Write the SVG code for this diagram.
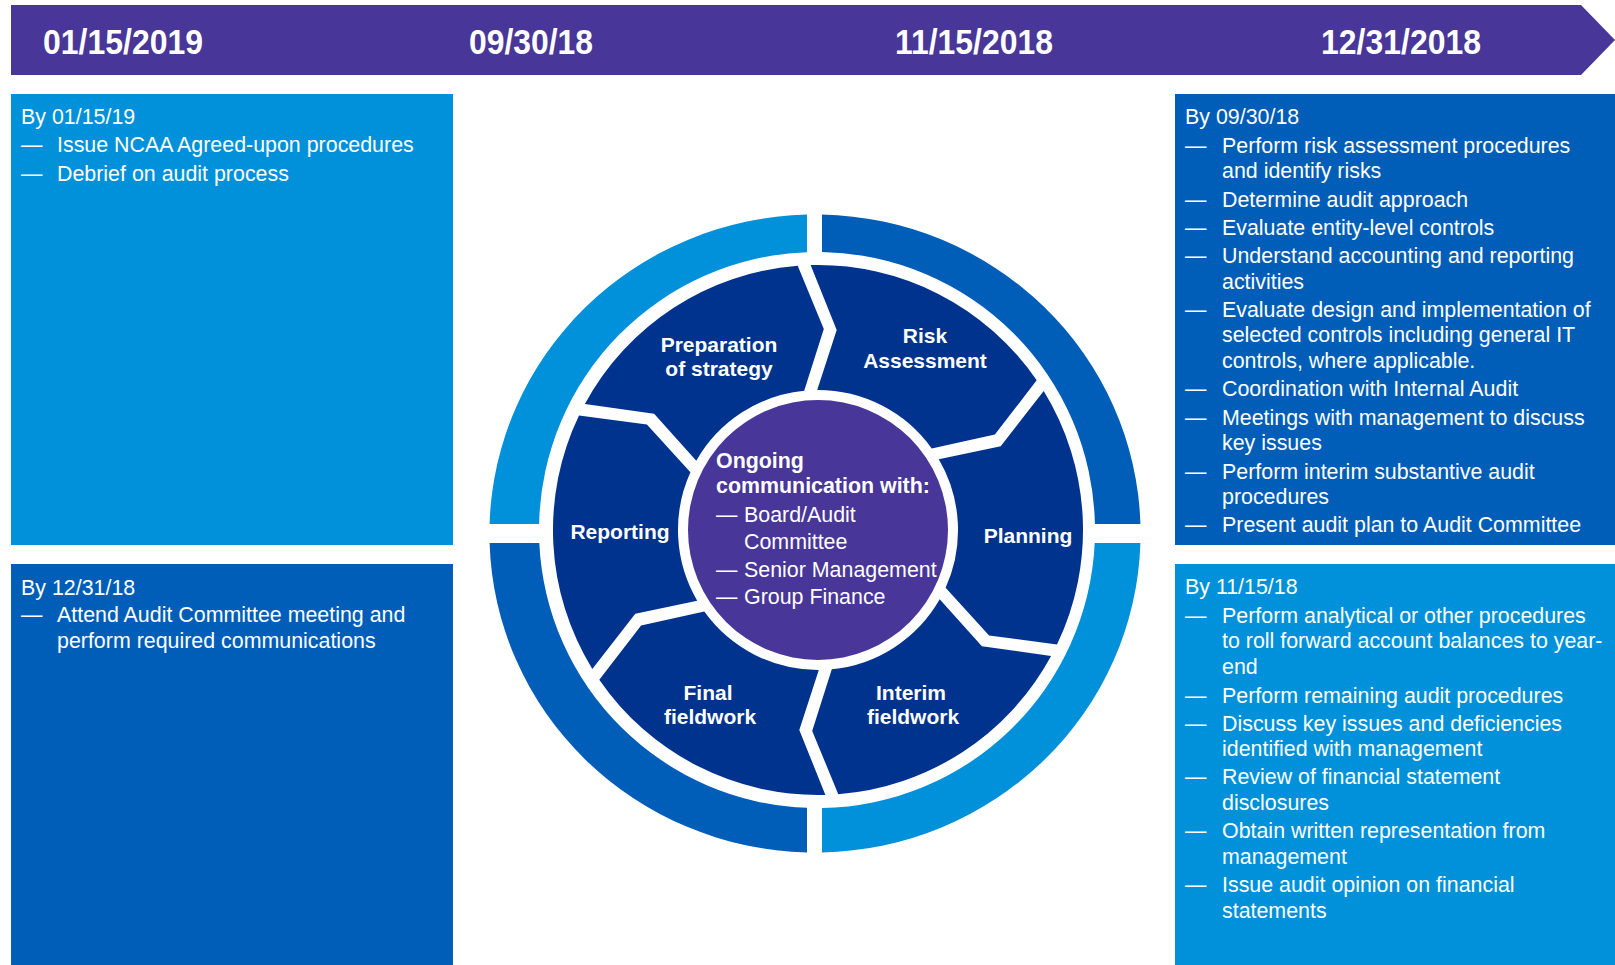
<svg xmlns="http://www.w3.org/2000/svg" width="1615" height="965" viewBox="0 0 1615 965">
<style>
.t{fill:#fff;font-family:"Liberation Sans",Arial,sans-serif;font-size:21.4px}
.lbl{fill:#fff;font-family:"Liberation Sans",Arial,sans-serif;font-size:21px;font-weight:bold;text-anchor:middle}
.date{fill:#fff;font-family:"Liberation Sans",Arial,sans-serif;font-size:35px;font-weight:bold}
.seg{fill:#00338D}
.light{fill:#0091DA}
.mid{fill:#005EB8}
.purple{fill:#483698}
</style>
<rect width="1615" height="965" fill="#fff"/>

<g id="banner">
<path class="purple" d="M11,5 L1581,5 L1615,40 L1581,75 L11,75 Z"/>
<text class="date" x="43" y="54" textLength="160" lengthAdjust="spacingAndGlyphs">01/15/2019</text>
<text class="date" x="469" y="54" textLength="124" lengthAdjust="spacingAndGlyphs">09/30/18</text>
<text class="date" x="895" y="54" textLength="158" lengthAdjust="spacingAndGlyphs">11/15/2018</text>
<text class="date" x="1321" y="54" textLength="160" lengthAdjust="spacingAndGlyphs">12/31/2018</text>
</g>

<g id="box-0115">
<rect class="light" x="11" y="94" width="442" height="451"/>
<text class="t" x="21" y="124">By 01/15/19</text>
<text class="t" x="21" y="152">—</text><text class="t" x="57" y="152">Issue NCAA Agreed-upon procedures</text>
<text class="t" x="21" y="181">—</text><text class="t" x="57" y="181">Debrief on audit process</text>
</g>

<g id="box-1231">
<rect class="mid" x="11" y="564" width="442" height="401"/>
<text class="t" x="21" y="595">By 12/31/18</text>
<text class="t" x="21" y="622">—</text><text class="t" x="57" y="622">Attend Audit Committee meeting and</text>
<text class="t" x="57" y="648">perform required communications</text>
</g>

<g id="box-0930">
<rect class="mid" x="1175" y="94" width="440" height="451"/>
<text class="t" x="1185" y="124">By 09/30/18</text>
<text class="t" x="1185" y="152.5">—</text><text class="t" x="1222" y="152.5">Perform risk assessment procedures</text>
<text class="t" x="1222" y="178">and identify risks</text>
<text class="t" x="1185" y="207">—</text><text class="t" x="1222" y="207">Determine audit approach</text>
<text class="t" x="1185" y="235">—</text><text class="t" x="1222" y="235">Evaluate entity-level controls</text>
<text class="t" x="1185" y="263">—</text><text class="t" x="1222" y="263">Understand accounting and reporting</text>
<text class="t" x="1222" y="288.5">activities</text>
<text class="t" x="1185" y="316.5">—</text><text class="t" x="1222" y="316.5">Evaluate design and implementation of</text>
<text class="t" x="1222" y="342.3">selected controls including general IT</text>
<text class="t" x="1222" y="368">controls, where applicable.</text>
<text class="t" x="1185" y="395.5">—</text><text class="t" x="1222" y="395.5">Coordination with Internal Audit</text>
<text class="t" x="1185" y="424.5">—</text><text class="t" x="1222" y="424.5">Meetings with management to discuss</text>
<text class="t" x="1222" y="450">key issues</text>
<text class="t" x="1185" y="479">—</text><text class="t" x="1222" y="479">Perform interim substantive audit</text>
<text class="t" x="1222" y="504">procedures</text>
<text class="t" x="1185" y="532">—</text><text class="t" x="1222" y="532">Present audit plan to Audit Committee</text>
</g>

<g id="box-1115">
<rect class="light" x="1175" y="564" width="440" height="401"/>
<text class="t" x="1185" y="594">By 11/15/18</text>
<text class="t" x="1185" y="622.5">—</text><text class="t" x="1222" y="622.5">Perform analytical or other procedures</text>
<text class="t" x="1222" y="648.3">to roll forward account balances to year-</text>
<text class="t" x="1222" y="674.3">end</text>
<text class="t" x="1185" y="702.7">—</text><text class="t" x="1222" y="702.7">Perform remaining audit procedures</text>
<text class="t" x="1185" y="730.7">—</text><text class="t" x="1222" y="730.7">Discuss key issues and deficiencies</text>
<text class="t" x="1222" y="756.3">identified with management</text>
<text class="t" x="1185" y="784.3">—</text><text class="t" x="1222" y="784.3">Review of financial statement</text>
<text class="t" x="1222" y="810">disclosures</text>
<text class="t" x="1185" y="838.3">—</text><text class="t" x="1222" y="838.3">Obtain written representation from</text>
<text class="t" x="1222" y="864">management</text>
<text class="t" x="1185" y="892.3">—</text><text class="t" x="1222" y="892.3">Issue audit opinion on financial</text>
<text class="t" x="1222" y="917.5">statements</text>
</g>

<g id="ring">
<path class="light" d="M489.6,524 A325.5,319 0 0 1 807,214.6 L807,252.2 A278,278 0 0 0 539.1,524 Z"/>
<path class="mid" d="M822,214.6 A325.5,319 0 0 1 1140.4,524 L1094.9,524 A278,278 0 0 0 822,252 Z"/>
<path class="light" d="M1140.4,543 A325.5,319 0 0 1 822,852.4 L822,808 A278,278 0 0 0 1094.7,543 Z"/>
<path class="mid" d="M807,852.4 A325.5,319 0 0 1 489.6,543 L539.3,543 A278,278 0 0 0 807,807.8 Z"/>
</g>

<g id="seg-risk">
<path class="seg" d="M810.6,265.1 A265,265 0 0 1 1036.7,380.3 L994.9,434.6 L931.7,448.4 A140,140 0 0 0 817.2,390 L836.7,329.9 Z"/>
<text class="lbl" x="925" y="343">Risk</text>
<text class="lbl" x="925" y="368">Assessment</text>
</g>
<g id="seg-planning">
<path class="seg" d="M1043.7,391.1 A265,265 0 0 1 1057,644.5 L989.1,635.5 L945.6,587.7 A140,140 0 0 0 938.8,459.3 L1000.7,446.2 Z"/>
<text class="lbl" x="1028" y="543">Planning</text>
</g>
<g id="seg-interim">
<path class="seg" d="M1051.1,656 A265,265 0 0 1 838.3,794.2 L812.2,730.9 L831.8,669.3 A140,140 0 0 0 939.7,599.3 L981.9,646.3 Z"/>
<text class="lbl" x="911" y="700">Interim</text>
<text class="lbl" x="913" y="724">fieldwork</text>
</g>
<g id="seg-final">
<path class="seg" d="M825.4,794.9 A265,265 0 0 1 599.3,679.7 L641.1,625.4 L704.3,611.6 A140,140 0 0 0 818.8,670 L799.3,730.1 Z"/>
<text class="lbl" x="708" y="700">Final</text>
<text class="lbl" x="710" y="724">fieldwork</text>
</g>
<g id="seg-reporting">
<path class="seg" d="M592.3,668.9 A265,265 0 0 1 579,415.5 L646.9,424.5 L690.4,472.3 A140,140 0 0 0 697.2,600.7 L635.3,613.8 Z"/>
<text class="lbl" x="620" y="539">Reporting</text>
</g>
<g id="seg-preparation">
<path class="seg" d="M584.9,404 A265,265 0 0 1 797.7,265.8 L823.8,329.1 L804.2,390.7 A140,140 0 0 0 696.3,460.7 L654.1,413.7 Z"/>
<text class="lbl" x="719" y="352">Preparation</text>
<text class="lbl" x="719" y="376">of strategy</text>
</g>

<g id="center">
<circle class="purple" cx="818" cy="530" r="130"/>
<text class="t" x="716" y="468" font-weight="bold" font-size="21px">Ongoing</text>
<text class="t" x="716" y="493" font-weight="bold" font-size="21px">communication with:</text>
<text class="t" x="716" y="522">—</text><text class="t" x="744" y="522">Board/Audit</text>
<text class="t" x="744" y="549">Committee</text>
<text class="t" x="716" y="577">—</text><text class="t" x="744" y="577">Senior Management</text>
<text class="t" x="716" y="604">—</text><text class="t" x="744" y="604">Group Finance</text>
</g>

<g id="connectors"/>
</svg>
